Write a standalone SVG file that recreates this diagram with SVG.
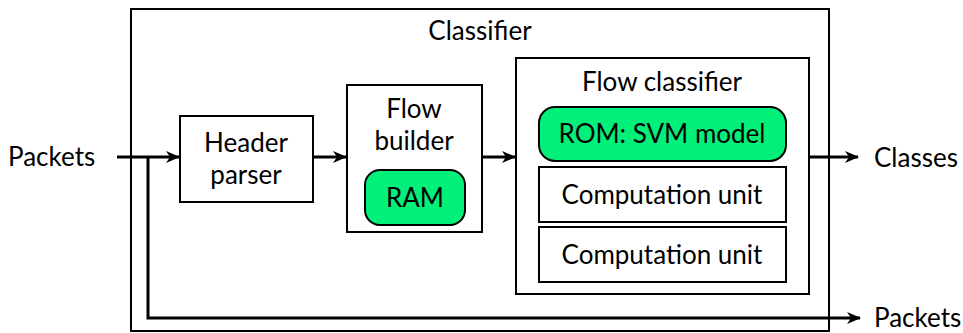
<svg xmlns="http://www.w3.org/2000/svg" width="963" height="333" viewBox="0 0 963 333">
<style>
.box{fill:#fff;stroke:#000;stroke-width:2}
.mem{fill:#00f07a;stroke:#000;stroke-width:2}
.t{font-family:Lato,"Open Sans",sans-serif;font-size:26px;fill:#000;text-anchor:middle}
.l{font-family:Lato,"Open Sans",sans-serif;font-size:26px;fill:#000}
.c{fill:none;stroke:#000;stroke-width:3}
</style>
<defs>
<marker id="ah" markerWidth="14" markerHeight="12" refX="13" refY="6" orient="auto" markerUnits="userSpaceOnUse">
<path d="M0,0 L14,6 L0,12 L4,6 Z" fill="#000"/>
</marker>
</defs>
<g id="classifier">
<rect class="box" x="131" y="9" width="698" height="322"/>
<text class="t" x="480" y="40">Classifier</text>
</g>
<g id="header-parser">
<rect class="box" x="180" y="116" width="133" height="86"/>
<text class="t" x="246" y="152">Header</text>
<text class="t" x="246" y="184">parser</text>
</g>
<g id="flow-builder">
<rect class="box" x="347" y="85" width="135" height="147"/>
<text class="t" x="414" y="118">Flow</text>
<text class="t" x="414" y="150">builder</text>
</g>
<g id="ram">
<rect class="mem" x="365" y="170" width="100" height="55" rx="15"/>
<text class="t" x="415" y="207">RAM</text>
</g>
<g id="flow-classifier">
<rect class="box" x="516" y="58" width="293" height="236"/>
<text class="t" x="662" y="91">Flow classifier</text>
</g>
<g id="rom">
<rect class="mem" x="539" y="107" width="247" height="54" rx="16"/>
<text class="t" x="662" y="143">ROM: SVM model</text>
</g>
<g id="cu1">
<rect class="box" x="539" y="167" width="247" height="55"/>
<text class="t" x="662" y="204">Computation unit</text>
</g>
<g id="cu2">
<rect class="box" x="539" y="227" width="247" height="55"/>
<text class="t" x="662" y="264">Computation unit</text>
</g>
<g id="labels">
<text class="l" x="8" y="166">Packets</text>
<text class="l" x="874" y="167">Classes</text>
<text class="l" x="874" y="327">Packets</text>
</g>
<g id="connectors">
<path class="c" d="M117,157 H179" marker-end="url(#ah)"/>
<path class="c" d="M148,157 V318 H860" marker-end="url(#ah)"/>
<path class="c" d="M313,157 H346" marker-end="url(#ah)"/>
<path class="c" d="M482,157 H515" marker-end="url(#ah)"/>
<path class="c" d="M810,157 H858" marker-end="url(#ah)"/>
</g>
</svg>
